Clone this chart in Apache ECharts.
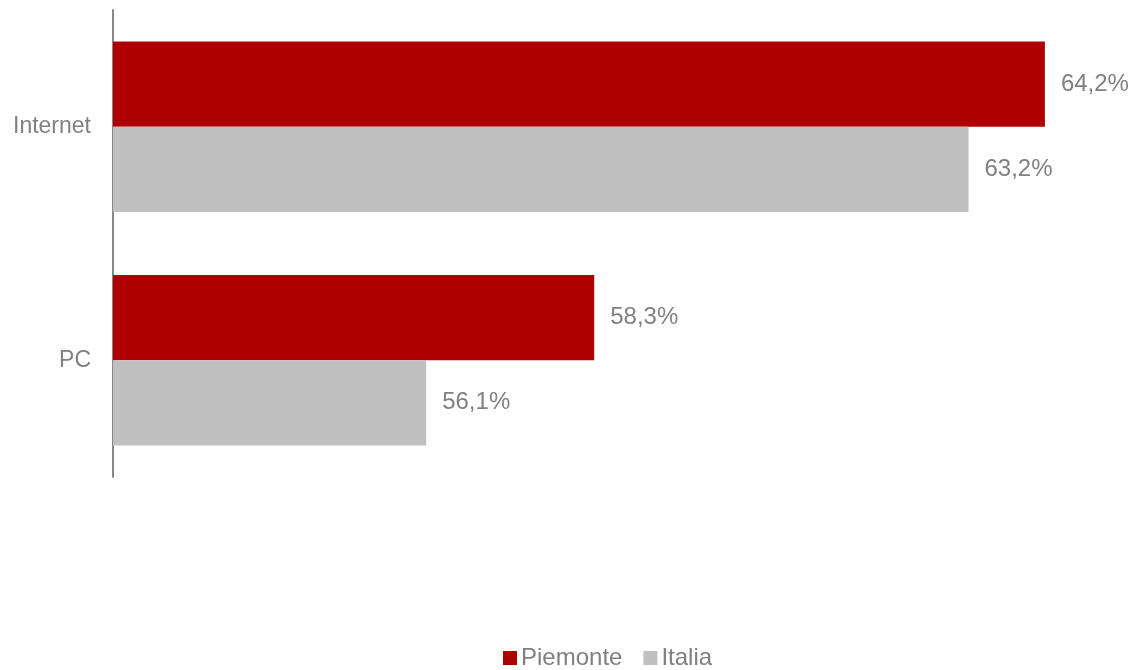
<!DOCTYPE html>
<html>
<head>
<meta charset="utf-8">
<script src="https://cdn.jsdelivr.net/npm/echarts@6/dist/echarts.min.js"></script>
<style>
html, body { margin: 0; padding: 0; background: #fff; }
#chart { width: 1137px; height: 670px; }
</style>
</head>
<body>
<div id="chart"></div>
<script>
// dati
var categorie = ['Internet', 'PC'];
var piemonte = [64.2, 58.3];
var italia = [63.2, 56.1];
var nomiSerie = ['Piemonte', 'Italia'];

var myChart = echarts.init(document.getElementById('chart'));

function etichetta(p) {
    return p.value.toFixed(1).replace('.', ',') + '%';
}

var option = {
    animation: false,
    textStyle: { fontFamily: 'Liberation Sans, Arial, sans-serif' },
    grid: {
        left: 113,
        right: 31,
        top: 10,
        bottom: 193
    },
    // legenda spostata un po' a destra come nell'originale
    legend: {
        data: nomiSerie,
        bottom: 0,
        padding: 0,
        left: 503,
        itemWidth: 14,
        itemHeight: 14,
        itemGap: 21,
        icon: 'rect',
        textStyle: { color: '#808080', fontSize: 24, padding: [0, 0, 0, -1] }
    },
    xAxis: {
        type: 'value',
        min: 52,
        max: 65,
        show: false
    },
    yAxis: {
        type: 'category',
        data: categorie,
        inverse: true,
        axisLine: { lineStyle: { color: '#888888', width: 2 } },
        axisTick: { show: false },
        axisLabel: { color: '#808080', fontSize: 23, margin: 22 }
    },
    series: [
        {
            name: nomiSerie[0],
            type: 'bar',
            data: piemonte,
            barGap: '0%',
            barCategoryGap: '27%',
            itemStyle: { color: '#AE0000' },
            label: { show: true, position: 'right', distance: 16, color: '#808080', fontSize: 24, formatter: etichetta }
        },
        {
            name: nomiSerie[1],
            type: 'bar',
            data: italia,
            barGap: '0%',
            barCategoryGap: '27%',
            itemStyle: { color: '#C0C0C0' },
            label: { show: true, position: 'right', distance: 16, color: '#808080', fontSize: 24, formatter: etichetta }
        }
    ]
};
myChart.setOption(option);
</script>
</body>
</html>
